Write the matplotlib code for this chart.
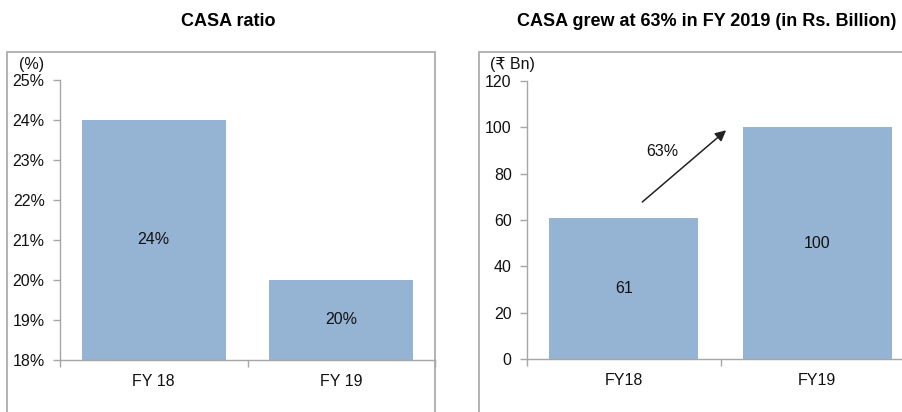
import matplotlib
matplotlib.use("Agg")
import matplotlib.pyplot as plt
from matplotlib.patches import Rectangle

plt.rcParams['font.family'] = ['Liberation Sans', 'DejaVu Sans']

# Data
left_categories = ["FY 18", "FY 19"]
left_values = [24, 20]
left_labels = ["24%", "20%"]
left_ticks = [18, 19, 20, 21, 22, 23, 24, 25]

right_categories = ["FY18", "FY19"]
right_values = [61, 100]
right_ticks = [0, 20, 40, 60, 80, 100, 120]
growth_label = "63%"

BAR = '#95B3D2'
GRAY = '#A6A6A6'
TXT = '#111111'
FS = 11.5
W, H = 902, 412

fig = plt.figure(figsize=(W / 100, H / 100), dpi=100)

# Outer boxes
fig.patches.append(Rectangle((7 / W, -0.05), (435 - 7) / W, (H - 52) / H + 0.05,
                             transform=fig.transFigure, fill=False, edgecolor=GRAY, lw=1.2))
fig.patches.append(Rectangle((479 / W, -0.05), (930 - 479) / W, (H - 52) / H + 0.05,
                             transform=fig.transFigure, fill=False, edgecolor=GRAY, lw=1.2))

fig.text(228 / W, 1 - 22 / H, "CASA ratio", ha='center', va='center', fontsize=13, fontweight='bold')
fig.text(707 / W, 1 - 22 / H, "CASA grew at 63% in FY 2019 (in Rs. Billion)", ha='center', va='center',
         fontsize=13, fontweight='bold')


def style(ax):
    for s in ['top', 'right']:
        ax.spines[s].set_visible(False)
    for s in ['left', 'bottom']:
        ax.spines[s].set_color(GRAY)
        ax.spines[s].set_linewidth(1.0)
    ax.tick_params(axis='y', colors=GRAY, labelcolor=TXT, length=5, width=1, labelsize=FS, pad=6)
    ax.tick_params(axis='x', which='major', length=0, labelsize=FS, labelcolor=TXT, pad=10)
    ax.tick_params(axis='x', which='minor', length=5, width=1, colors=GRAY)
    ax.set_xlim(-0.5, 1.5)
    ax.set_xticks([-0.5, 0.5, 1.5], minor=True)


# Left chart
ax1 = fig.add_axes([60 / W, (H - 360) / H, 375 / W, 280 / H])
style(ax1)
x1 = range(len(left_categories))
bottom = left_ticks[0]
ax1.bar(x1, [v - bottom for v in left_values], bottom=bottom, width=0.77, color=BAR)
ax1.set_ylim(left_ticks[0], left_ticks[-1])
ax1.set_yticks(left_ticks)
ax1.set_yticklabels([f"{t}%" for t in left_ticks])
ax1.set_xticks(list(x1))
ax1.set_xticklabels(left_categories)
for xi, v, lab in zip(x1, left_values, left_labels):
    ax1.text(xi, (v + bottom) / 2, lab, ha='center', va='center', fontsize=FS, color=TXT)
fig.text(32 / W, 1 - 64 / H, "(%)", ha='center', va='center', fontsize=FS, color=TXT)

# Right chart
ax2 = fig.add_axes([527 / W, (H - 359) / H, 387 / W, 278 / H])
style(ax2)
x2 = range(len(right_categories))
ax2.bar(x2, right_values, width=0.77, color=BAR)
ax2.set_ylim(right_ticks[0], right_ticks[-1])
ax2.set_yticks(right_ticks)
ax2.set_xticks(list(x2))
ax2.set_xticklabels(right_categories)
for xi, v in zip(x2, right_values):
    ax2.text(xi, v / 2, f"{v}", ha='center', va='center', fontsize=FS, color=TXT)
fig.text(512 / W, 1 - 64 / H, "(₹ Bn)", ha='center', va='center', fontsize=FS, color=TXT)

ax2.annotate("", xy=(0.54, 99.5), xytext=(0.085, 67),
             arrowprops=dict(arrowstyle='-|>', color='#222222', lw=1.1, mutation_scale=16))
ax2.text(0.2, 89.5, growth_label, ha='center', va='center', fontsize=FS, color=TXT)

fig.savefig("out.png", dpi=100)
